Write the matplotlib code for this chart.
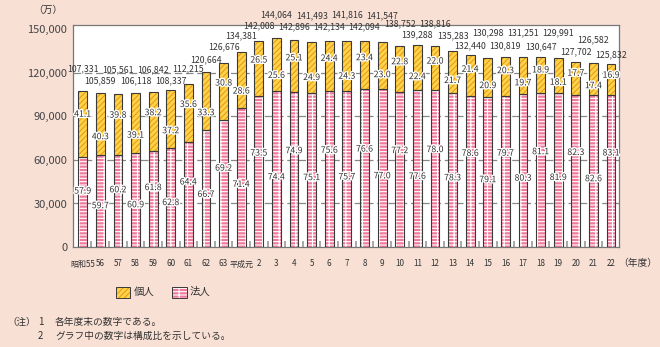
import matplotlib
matplotlib.use("Agg")
import matplotlib.pyplot as plt
from matplotlib import patheffects as pe
from matplotlib.patches import Rectangle

plt.rcParams['font.family'] = ['Noto Sans CJK JP', 'DejaVu Sans']
plt.rcParams['hatch.linewidth'] = 0.8

# data
years = ['昭和55', '56', '57', '58', '59', '60', '61', '62', '63', '平成元',
         '2', '3', '4', '5', '6', '7', '8', '9', '10', '11', '12', '13',
         '14', '15', '16', '17', '18', '19', '20', '21', '22']
totals = [107331, 105859, 105561, 106118, 106842, 108337, 112215, 120664,
          126676, 134381, 142008, 144064, 142896, 141493, 142134, 141816,
          142094, 141547, 138752, 139288, 138816, 135283, 132440, 130298,
          130819, 131251, 130647, 129991, 127702, 126582, 125832]
kojin_pct = [41.1, 40.3, 39.8, 39.1, 38.2, 37.2, 35.6, 33.3, 30.8, 28.6,
             26.5, 25.6, 25.1, 24.9, 24.4, 24.3, 23.4, 23.0, 22.8, 22.4,
             22.0, 21.7, 21.4, 20.9, 20.3, 19.7, 18.9, 18.1, 17.7, 17.4, 16.9]
houjin_pct = [57.9, 59.7, 60.2, 60.9, 61.8, 62.8, 64.4, 66.7, 69.2, 71.4,
              73.5, 74.4, 74.9, 75.1, 75.6, 75.7, 76.6, 77.0, 77.2, 77.6,
              78.0, 78.3, 78.6, 79.1, 79.7, 80.3, 81.1, 81.9, 82.3, 82.6, 83.1]

# how far (px) each total label sits above its bar, staggered like the original
lift = [22, 13, 24, 12, 22, 9, 15, 12, 16, 16, 15, 23, 13, 26, 14, 26,
        14, 26, 22, 10, 22, 15, 9, 25, 11, 24, 11, 26, 10, 24, 10]

BG = '#f8e0d5'
YEL = '#ffd447'
YEL_H = '#e89a1c'
PINK = '#f07a9c'
EDGE = '#3a3a3a'
TXT = '#333333'

fig = plt.figure(figsize=(6.6, 3.47), dpi=100, facecolor=BG)
ax = fig.add_axes([73/660, 1-247/347, (619-73)/660, (247-25)/347])
ax.set_facecolor('white')

x = list(range(len(years)))
houjin = [t*p/100 for t, p in zip(totals, houjin_pct)]
kojin = [t - h for t, h in zip(totals, houjin)]

w = 0.5
ax.bar(x, houjin, w, color=PINK, edgecolor='white', hatch='-----||', lw=0, zorder=2)
ax.bar(x, kojin, w, bottom=houjin, color=YEL, edgecolor=YEL_H, hatch='//////', lw=0, zorder=2)
ax.bar(x, houjin, w, facecolor='none', edgecolor=EDGE, lw=0.8, zorder=3)
ax.bar(x, kojin, w, bottom=houjin, facecolor='none', edgecolor=EDGE, lw=0.8, zorder=3)

halo = [pe.withStroke(linewidth=2, foreground='white')]
fs = 6.3
for i in x:
    ax.annotate(f'{totals[i]:,}', (i, totals[i]), xytext=(0, lift[i]*0.72),
                textcoords='offset points', ha='center', va='center',
                fontsize=fs, color=TXT, zorder=5)
    fk = 0.65 if i % 2 == 0 else 0.3
    ax.text(i, houjin[i] + kojin[i]*fk, f'{kojin_pct[i]:.1f}', ha='center', va='center',
            fontsize=fs, color=TXT, path_effects=halo, zorder=5)
    fh = 0.62 if i % 2 == 0 else 0.45
    ax.text(i, houjin[i]*fh, f'{houjin_pct[i]:.1f}', ha='center', va='center',
            fontsize=fs, color=TXT, path_effects=halo, zorder=5)

ax.set_xlim(-0.55, 30.45)
ax.set_ylim(0, 153000)
yt = [0, 30000, 60000, 90000, 120000, 150000]
ax.set_yticks(yt)
ax.set_yticklabels([f'{v:,}' for v in yt])
for v in yt[1:-1]:
    ax.axhline(v, color='#888888', lw=0.9, ls=(0, (6, 3)), zorder=1)

ax.set_xticks(x)
ax.set_xticklabels(years, fontsize=5.8, color=TXT)
ax.set_xticks([i + 0.5 for i in x[:-1]], minor=True)
ax.tick_params(axis='x', which='major', length=0, pad=9)
ax.tick_params(axis='x', which='minor', direction='in', length=4, color='#999999', width=1.2)
ax.tick_params(axis='y', length=0, pad=4, labelsize=8, labelcolor='#444444')
for s in ax.spines.values():
    s.set_color('#777777')
    s.set_linewidth(0.9)

fig.text(48/660, 1-10/347, '（万）', ha='center', va='center', fontsize=7, color=TXT)
fig.text(638/660, 1-263/347, '（年度）', ha='center', va='center', fontsize=7, color=TXT)

# legend
fig.patches.append(Rectangle((116/660, 1-298/347), 14/660, 11/347, transform=fig.transFigure,
                             facecolor=YEL, edgecolor=YEL_H, hatch='//////', lw=0))
fig.patches.append(Rectangle((116/660, 1-298/347), 14/660, 11/347, transform=fig.transFigure,
                             facecolor='none', edgecolor=EDGE, lw=0.7))
fig.text(134/660, 1-292/347, '個人', va='center', fontsize=7.5, color=TXT)
fig.patches.append(Rectangle((172/660, 1-298/347), 15/660, 11/347, transform=fig.transFigure,
                             facecolor=PINK, edgecolor='white', hatch='-----||', lw=0))
fig.patches.append(Rectangle((172/660, 1-298/347), 15/660, 11/347, transform=fig.transFigure,
                             facecolor='none', edgecolor=EDGE, lw=0.7))
fig.text(190/660, 1-292/347, '法人', va='center', fontsize=7.5, color=TXT)

# notes
fig.text(7/660, 1-322/347, '（注）', va='center', fontsize=6.8, color=TXT)
fig.text(38/660, 1-322/347, '1', va='center', fontsize=7, color=TXT)
fig.text(55/660, 1-322/347, '各年度末の数字である。', va='center', fontsize=7, color=TXT)
fig.text(38/660, 1-336/347, '2', va='center', fontsize=7, color=TXT)
fig.text(55/660, 1-336/347, 'グラフ中の数字は構成比を示している。', va='center', fontsize=7, color=TXT)

fig.savefig('out.png', dpi=100, facecolor=BG)
